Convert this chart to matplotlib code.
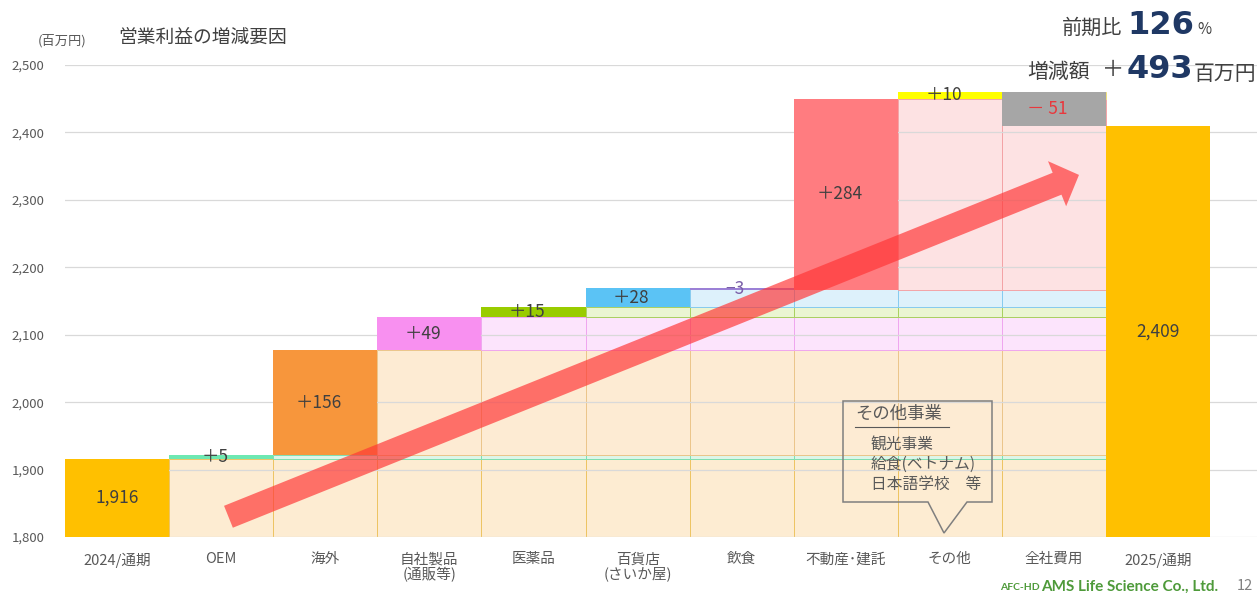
import numpy as np
import matplotlib
matplotlib.use("Agg")
import matplotlib.pyplot as plt
from matplotlib.patches import FancyArrowPatch, ArrowStyle, Polygon

plt.rcParams['font.family'] = ['Noto Sans CJK JP', 'DejaVu Sans']

# ---------------- data ----------------
categories = ['2024/通期', 'OEM', '海外', '自社製品\n(通販等)', '医薬品', '百貨店\n(さいか屋)',
              '飲食', '不動産･建託', 'その他', '全社費用', '2025/通期']
start_value = 1916
changes = [5, 156, 49, 15, 28, -3, 284, 10, -51]
end_value = 2409
start_label = '1,916'
end_label = '2,409'
change_labels = ['＋5', '＋156', '＋49', '＋15', '＋28', '−3', '＋284', '＋10', '－ 51']
yticks = [1800, 1900, 2000, 2100, 2200, 2300, 2400, 2500]
ytick_labels = ['1,800', '1,900', '2,000', '2,100', '2,200', '2,300', '2,400', '2,500']

# ---------------- styles ----------------
total_color = '#FFC000'
step_colors = ['#6EE8B2', '#F7963C', '#F890F0', '#99CC00', '#5BC3F5',
               '#9B80D6', '#FF7C80', '#FFFF00', '#A6A6A6']
pale_colors = ['#DDF5E8', '#FDEBD3', '#FCE4FC', '#EAF5D2', '#DDF1FB',
               '#EEE6FA', '#FDE2E3', '#FFFBD0', '#EEEEEE']
pale_edges = ['#7EDFB0', '#EBC58A', '#EFA6EF', '#A8D060', '#86CBEF',
              '#B9A6E6', '#F3A3A6', '#EEE07A', '#C8C8C8']
base_pale = '#FDECD2'
base_edge = '#EDC463'
label_color = '#404040'
tick_color = '#595959'

W, H = 1260, 593
fig = plt.figure(figsize=(W / 100, H / 100), dpi=100)
ax = fig.add_axes([65 / W, 56 / H, 1192 / W, 472 / H])

n = len(categories)
x = np.arange(n)
levels = start_value + np.concatenate([[0], np.cumsum(changes)])  # level after each step
ymin = yticks[0]
last_step_col = len(changes)  # column index of the last change (全社費用)

# gridlines
for yt in yticks:
    ax.axhline(yt, color='#D9D9D9', lw=0.9, zorder=1.5)

# pale base under all step columns
for j in range(1, last_step_col + 1):
    ax.bar(j, start_value - ymin, bottom=ymin, width=1.0, color=base_pale,
           edgecolor=base_edge, lw=0.7, zorder=1)

# pale carried-over segments
for k, ch in enumerate(changes):
    col = k + 1
    if ch <= 0:
        continue
    for j in range(col + 1, last_step_col + 1):
        ax.bar(j, ch, bottom=levels[k], width=1.0, color=pale_colors[k],
               edgecolor=pale_edges[k], lw=0.7, zorder=1)

# total bars
ax.bar(0, start_value - ymin, bottom=ymin, width=1.0, color=total_color, zorder=2)
ax.bar(n - 1, end_value - ymin, bottom=ymin, width=1.0, color=total_color, zorder=2)

# step bars
for k, ch in enumerate(changes):
    col = k + 1
    bottom = min(levels[k], levels[k + 1])
    ax.bar(col, abs(ch), bottom=bottom, width=1.0, color=step_colors[k], zorder=2)

# labels
ax.text(0, (start_value + ymin) / 2, start_label, ha='center', va='center',
        fontsize=12.5, color=label_color, zorder=5)
ax.text(n - 1, (end_value + ymin) / 2, end_label, ha='center', va='center',
        fontsize=12.5, color=label_color, zorder=5)
for k, ch in enumerate(changes):
    col = k + 1
    mid = (levels[k] + levels[k + 1]) / 2
    c = label_color
    if k == 5:
        c = '#7A5FA8'
    if k == 8:
        c = '#E8383D'
    ax.text(col - 0.06, mid, change_labels[k], ha='center', va='center',
            fontsize=12.5, color=c, zorder=5)

# big trend arrow (decoration)
arrow = FancyArrowPatch((1.07, 1830), (9.24, 2337),
                        arrowstyle=ArrowStyle.Simple(head_length=17, head_width=35, tail_width=17),
                        mutation_scale=1, shrinkA=0, shrinkB=0,
                        color='#FF3535', alpha=0.68, lw=0, zorder=4)
ax.add_patch(arrow)

ax.set_xlim(-0.5, 10.95)
ax.set_ylim(yticks[0], yticks[-1])
ax.set_yticks(yticks)
ax.set_yticklabels(ytick_labels, fontsize=9.5, color=tick_color)
ax.set_xticks(x)
ax.set_xticklabels(categories, fontsize=10.5, color=tick_color, linespacing=1.05, va='top')
ax.tick_params(axis='both', length=0)
ax.tick_params(axis='y', pad=15)
ax.tick_params(axis='x', pad=11)
for s in ax.spines.values():
    s.set_visible(False)
ax.set_facecolor('none')

# callout box (その他事業) in figure pixel coords
def fp(px, py):
    return (px / W, 1 - py / H)

callout = Polygon([fp(843, 401), fp(992, 401), fp(992, 502), fp(967, 502),
                   fp(944, 533), fp(928, 502), fp(843, 502)],
                  closed=True, fill=False, edgecolor='#7F7F7F', lw=1.1,
                  transform=fig.transFigure, zorder=10)
fig.patches.append(callout)
fig.text(855 / W, 1 - 414 / H, 'その他事業', fontsize=12.5, color=tick_color,
         va='center', ha='left')
fig.add_artist(plt.Line2D([855 / W, 949 / W], [1 - 427 / H, 1 - 427 / H],
                          color=tick_color, lw=0.8, transform=fig.transFigure))
for i, t in enumerate(['観光事業', '給食(ベトナム)', '日本語学校　等']):
    fig.text(871 / W, 1 - (445 + i * 19.5) / H, t, fontsize=11.3, color=tick_color,
             va='center', ha='left')

# titles
fig.text(38 / W, 1 - 41 / H, '(百万円)', fontsize=9.5, color=tick_color, va='center')
fig.text(118 / W, 1 - 37 / H, '営業利益の増減要因', fontsize=13.5, color='#404040', va='center')

navy = '#1F3864'
fig.text(1122 / W, 1 - 28 / H, '前期比', fontsize=14.5, color='#404040', va='center', ha='right')
fig.text(1127 / W, 1 - 26 / H, '126', fontsize=23, color=navy, va='center', ha='left',
         fontweight='bold', family='DejaVu Sans')
fig.text(1197 / W, 1 - 30 / H, '%', fontsize=11, color='#404040', va='center', ha='left')
fig.text(1090 / W, 1 - 72 / H, '増減額', fontsize=15, color='#404040', va='center', ha='right')
fig.text(1102 / W, 1 - 70 / H, '＋', fontsize=16, color='#404040', va='center', ha='left')
fig.text(1127 / W, 1 - 69 / H, '493', fontsize=23, color=navy, va='center', ha='left',
         fontweight='bold', family='DejaVu Sans')
fig.text(1194 / W, 1 - 74 / H, '百万円', fontsize=15, color='#404040', va='center', ha='left')

# footer
green = '#4E9A3A'
fig.text(1000 / W, 1 - 588 / H, 'AFC-HD', fontsize=7.5, color=green, va='center',
         fontweight='bold', family='Lato')
fig.text(1041 / W, 1 - 587 / H, 'AMS Life Science Co., Ltd.', fontsize=11, color=green,
         va='center', fontweight='bold', family='Lato')
fig.text(1237 / W, 1 - 586 / H, '12', fontsize=10.5, color='#808080', va='center')

fig.savefig('out.png', dpi=100)
